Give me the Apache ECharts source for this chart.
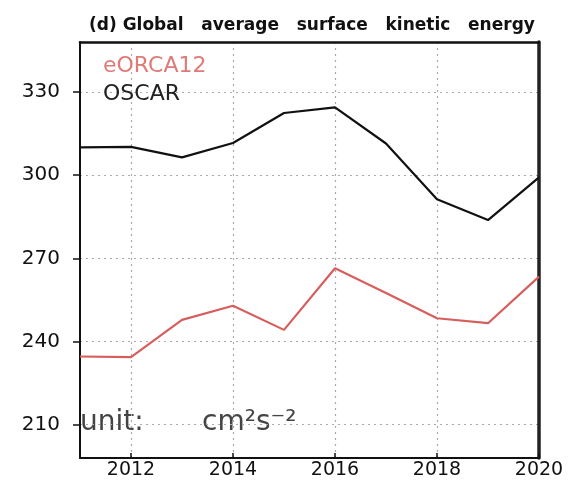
<!DOCTYPE html>
<html>
<head>
<meta charset="utf-8">
<script src="https://cdn.jsdelivr.net/npm/echarts@6/dist/echarts.min.js"></script>
<style>
  html, body { margin: 0; padding: 0; background: #fff; }
  #chart { width: 572px; height: 481px; }
</style>
</head>
<body>
<div id="chart"></div>
<script>
// values
const years = [2011, 2012, 2013, 2014, 2015, 2016, 2017, 2018, 2019, 2020];
const oscar = [310.0, 310.2, 306.4, 311.6, 322.4, 324.4, 311.4, 291.3, 283.8, 299.2];
const eorca12 = [234.6, 234.4, 247.8, 252.9, 244.2, 266.4, 257.5, 248.4, 246.6, 263.4];
const xTicks = [2012, 2014, 2016, 2018, 2020];
const yTicks = [210, 240, 270, 300, 330];

const redColor = '#d65e5d';
const gridLine = { show: true, lineStyle: { color: '#aaa', type: [2, 4], width: 1.2 } };

let chart = echarts.init(document.getElementById('chart'));
chart.setOption({
  animation: false,
  title: {
    text: '(d) Global   average   surface   kinetic   energy',
    left: 84,
    top: 12,
    textStyle: { fontFamily: 'DejaVu Sans', fontWeight: 'bold', fontSize: 17, color: '#111' }
  },
  legend: {
    orient: 'vertical',
    left: 92,
    top: 50,
    itemWidth: 0,
    itemHeight: 0,
    itemGap: 6,
    itemStyle: { opacity: 0 },
    lineStyle: { opacity: 0 },
    textStyle: { fontFamily: 'DejaVu Sans', fontSize: 22 },
    data: [
      { name: 'eORCA12', textStyle: { color: '#e07a78' } },
      { name: 'OSCAR', textStyle: { color: '#222' } }
    ]
  },
  grid: { left: 80, right: 33, top: 42, bottom: 23 },
  xAxis: [{
    type: 'value',
    min: 2011,
    max: 2020,
    axisLine: { lineStyle: { color: '#111', width: 2 } },
    axisTick: { show: true, inside: true, length: 5, customValues: xTicks, lineStyle: { color: '#111', width: 1.5 } },
    axisLabel: {
      customValues: xTicks,
      formatter: v => String(v),
      fontFamily: 'DejaVu Sans', fontSize: 19, color: '#111', margin: 3
    },
    splitLine: gridLine
  }, {
    type: 'value',
    position: 'top',
    min: 2011,
    max: 2020,
    axisLine: { show: true, lineStyle: { color: '#111', width: 2.5 } },
    axisTick: { show: false },
    axisLabel: { show: false },
    splitLine: { show: false }
  }],
  yAxis: [{
    type: 'value',
    min: 198,
    max: 348,
    axisLine: { show: true, lineStyle: { color: '#111', width: 2 } },
    axisTick: { show: true, length: 7, customValues: yTicks, lineStyle: { color: '#111', width: 1.5 } },
    axisLabel: { customValues: yTicks, fontFamily: 'DejaVu Sans', fontSize: 20, color: '#111', margin: 20 },
    splitLine: gridLine
  }, {
    type: 'value',
    position: 'right',
    min: 198,
    max: 348,
    axisLine: { show: true, lineStyle: { color: '#222', width: 3.5 } },
    axisTick: { show: false },
    axisLabel: { show: false },
    splitLine: { show: false }
  }],
  graphic: [{
    type: 'text',
    left: 80,
    top: 409,
    style: { text: 'unit:', font: '28px "DejaVu Sans"', fill: '#444' }
  }, {
    type: 'text',
    left: 202,
    top: 409,
    style: { text: 'cm²s⁻²', font: '28px "DejaVu Sans"', fill: '#444' }
  }],
  series: [{
    name: 'eORCA12',
    type: 'line',
    data: years.map((y, i) => [y, eorca12[i]]),
    showSymbol: false,
    color: redColor,
    lineStyle: { width: 2.2, color: redColor }
  }, {
    name: 'OSCAR',
    type: 'line',
    data: years.map((y, i) => [y, oscar[i]]),
    showSymbol: false,
    color: '#111',
    lineStyle: { width: 2.2, color: '#111' }
  }]
});
</script>
</body>
</html>
